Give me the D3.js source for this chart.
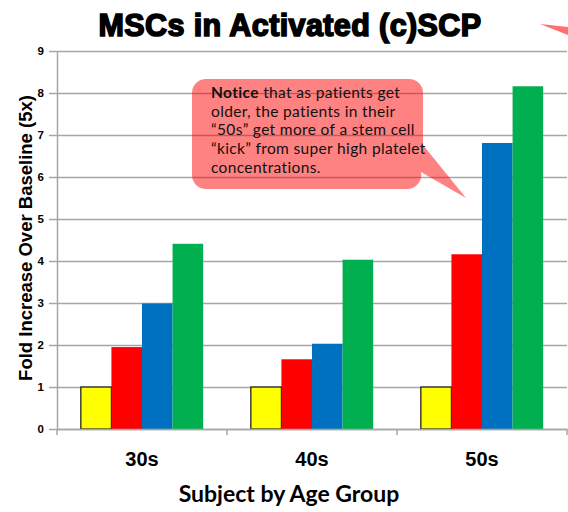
<!DOCTYPE html>
<html><head><meta charset="utf-8">
<script src="https://cdn.jsdelivr.net/npm/d3@7"></script>
<style>body{margin:0;background:#fff}svg{display:block}</style>
</head><body>
<svg id="c" width="568" height="512"></svg>
<script>
const categories = ["30s", "40s", "50s"];
const seriesNames = ["Series 1", "Series 2", "Series 3", "Series 4"];
const series1 = [1, 1, 1];
const series2 = [1.95, 1.66, 4.16];
const series3 = [2.99, 2.03, 6.81];
const series4 = [4.41, 4.03, 8.16];
const seriesColors = ["#FFFF00", "#FF0000", "#0070C0", "#00B050"];
const yTicks = [0, 1, 2, 3, 4, 5, 6, 7, 8, 9];
const titleText = "MSCs in Activated (c)SCP";
const yTitle = "Fold Increase Over Baseline (5x)";
const xTitle = "Subject by Age Group";

const allSeries = [series1, series2, series3, series4];
const svg = d3.select("#c");
const L = 57, R = 567, T = 51, B = 429;

const y = d3.scaleLinear().domain([0, 9]).range([B, T]);
const x0 = d3.scaleBand().domain(categories).range([L, R]).padding(0);
const x1 = d3.scaleBand().domain(seriesNames).range([0, x0.bandwidth()]).paddingInner(0).paddingOuter(0.78);

// gridlines + y ticks
const yAxis = d3.axisLeft(y).tickValues(yTicks).tickSize(-(R - L)).tickSizeOuter(0).tickPadding(13);
const gy = svg.append("g").attr("transform", `translate(${L},0)`).call(yAxis);
gy.select(".domain").attr("stroke", "#a6a6a6").attr("stroke-width", 1.5);
gy.selectAll(".tick line").attr("stroke", "#a6a6a6").attr("stroke-width", 1.5).attr("x1", -8);
gy.selectAll(".tick text").attr("font-family", "Liberation Sans, Arial, sans-serif")
  .attr("font-weight", "bold").attr("font-size", 11.5).attr("fill", "#000");

// bars
const groups = svg.append("g").selectAll("g").data(categories).join("g")
  .attr("transform", d => `translate(${x0(d)},0)`);
groups.selectAll("rect").data((c, i) => seriesNames.map((s, j) => ({ s, j, v: allSeries[j][i] })))
  .join("rect")
  .attr("x", d => x1(d.s)).attr("width", x1.bandwidth())
  .attr("y", d => y(d.v)).attr("height", d => y(0) - y(d.v))
  .attr("fill", d => seriesColors[d.j])
  .attr("stroke", d => d.j === 0 ? "#111" : "none").attr("stroke-width", 1.2);

// x axis
const xAxis = d3.axisBottom(x0).tickSize(0).tickPadding(23);
const gx = svg.append("g").attr("transform", `translate(0,${B})`).call(xAxis);
gx.select(".domain").attr("stroke", "#a6a6a6").attr("stroke-width", 1.5);
gx.selectAll(".tick text").attr("font-family", "Liberation Sans, Arial, sans-serif")
  .attr("font-weight", "bold").attr("font-size", 20).attr("fill", "#000");
const bounds = categories.map(c => x0(c)).concat([R]);
gx.selectAll(".sep").data(bounds).join("line").attr("class", "sep")
  .attr("x1", d => d).attr("x2", d => d).attr("y1", 0).attr("y2", 6)
  .attr("stroke", "#a6a6a6").attr("stroke-width", 1.5);

// title
svg.append("text").attr("x", 290).attr("y", 36).attr("text-anchor", "middle")
  .attr("font-family", "Liberation Sans, Arial, sans-serif").attr("font-weight", "bold")
  .attr("font-size", 30.5).attr("stroke", "#000").attr("stroke-width", 1.6).attr("fill", "#000")
  .attr("letter-spacing", 0.4)
  .text(titleText);

// red wedge top right
svg.append("polygon").attr("points", "540,24 568,27 568,35").attr("fill", "#FF7070");

// y title
svg.append("text").attr("transform", "translate(32,238) rotate(-90)").attr("text-anchor", "middle")
  .attr("font-family", "Liberation Sans, Arial, sans-serif").attr("font-weight", "bold")
  .attr("font-size", 18.5).attr("fill", "#000").text(yTitle);

// x title
svg.append("text").attr("x", 289).attr("y", 502).attr("text-anchor", "middle")
  .attr("font-family", "Lato, Open Sans, sans-serif").attr("font-weight", "bold")
  .attr("font-size", 23).attr("fill", "#000").text(xTitle);

// callout
const bx = 192, by = 79, bw = 231, bh = 110, r = 14;
const path = d3.path();
path.moveTo(bx + r, by);
path.lineTo(bx + bw - r, by);
path.arcTo(bx + bw, by, bx + bw, by + r, r);
path.lineTo(bx + bw, 145);
path.lineTo(466, 198);
path.lineTo(bx + bw - 2, 172);
path.arcTo(bx + bw, by + bh, bx + bw - r, by + bh, r);
path.lineTo(bx + r, by + bh);
path.arcTo(bx, by + bh, bx, by + bh - r, r);
path.lineTo(bx, by + r);
path.arcTo(bx, by, bx + r, by, r);
path.closePath();
svg.append("path").attr("d", path.toString()).attr("fill", "rgba(255,0,0,0.49)");

const lines = [
  [["Notice", true], [" that as patients get", false]],
  [["older, the patients in their", false]],
  [["\u201C50s\u201D get more of a stem cell", false]],
  [["\u201Ckick\u201D from super high platelet", false]],
  [["concentrations.", false]]
];
const ct = svg.append("text").attr("font-family", "Lato, Open Sans, sans-serif")
  .attr("font-size", 15.5).attr("letter-spacing", 0.35).attr("fill", "#111");
lines.forEach((ln, i) => {
  ln.forEach((seg, k) => {
    const ts = ct.append("tspan").text(seg[0]).attr("font-weight", seg[1] ? "bold" : "normal");
    if (k === 0) ts.attr("x", 211).attr("y", 98 + i * 18.7);
  });
});
</script>
</body></html>
